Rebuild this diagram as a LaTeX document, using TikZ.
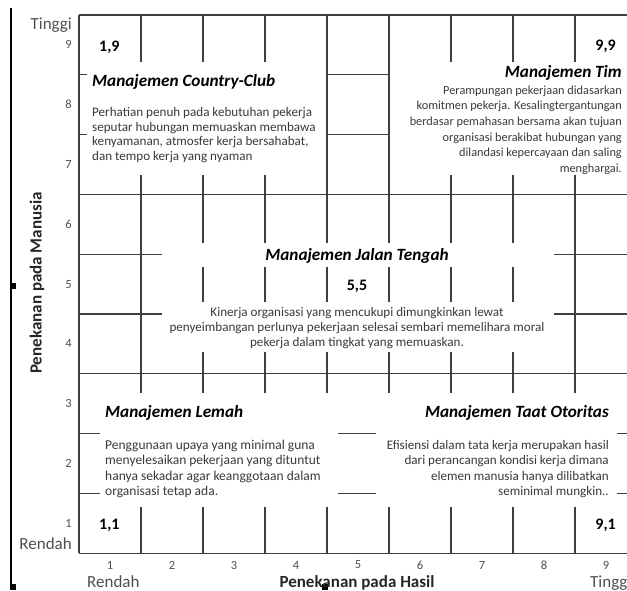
\documentclass[tikz,border=0pt]{standalone}
\usepackage{fontspec}
\setmainfont{Carlito}[Numbers=Lining]
\definecolor{gridc}{HTML}{404040}
\definecolor{txtc}{HTML}{3A3A3A}
\definecolor{axc}{HTML}{505050}
\begin{document}
\begin{tikzpicture}[x=1pt,y=-1pt,
  gridline/.style={draw=gridc, line width=1.1pt},
  whitebox/.style={fill=white, draw=none},
  ttl/.style={font=\fontsize{17.2}{19}\selectfont\bfseries\itshape, inner sep=0},
  body/.style={text=txtc, inner sep=0},
  coordlbl/.style={font=\fontsize{16}{18}\selectfont\bfseries, inner sep=0},
  axnum/.style={font=\fontsize{12.5}{14}\selectfont, text=axc, inner sep=0},
  axlbl/.style={font=\fontsize{17}{19}\selectfont, text=axc, inner sep=0},
  axttl/.style={font=\fontsize{17}{19}\selectfont\bfseries, text=black!85, inner sep=0},
  blk/.style={fill=black, draw=none}]
\path[use as bounding box, fill=white] (0,0) rectangle (627,590);
% grid
\foreach \i in {0,...,9} \draw[gridline] ({79+62*\i},15) -- ({79+62*\i},553.2);
\foreach \j in {0,...,9} \draw[gridline] (79,{15+59.8*\j}) -- (640,{15+59.8*\j});
% white text areas
\fill[whitebox] (87,62) rectangle (326,175);
\fill[whitebox] (390,62) rectangle (640,175);
\fill[whitebox] (162,243) rectangle (554,267);
\fill[whitebox] (162,302) rectangle (554,352);
\fill[whitebox] (100,393) rectangle (338,507);
\fill[whitebox] (376,393) rectangle (617,507);
% left axis line and markers
\coordinate (axtop) at (11,8);
\coordinate (axbot) at (11,590);
\draw[line width=1.2pt] (axtop) -- (axbot);
\fill[blk] (10,283) rectangle (16,289);
\fill[blk] (10,584) rectangle (16,590);
\fill[blk] (322,584) rectangle (328,590);
% quadrant texts
\node[coordlbl, anchor=base west] (c19) at (99,51) {1,9};
\node[coordlbl, anchor=base east] (c99) at (616,50.5) {9,9};
\node[coordlbl, anchor=base west] (c11) at (99,529.5) {1,1};
\node[coordlbl, anchor=base east] (c91) at (616,529.5) {9,1};
\node[coordlbl, anchor=base] (c55) at (357,290) {5,5};
\node[ttl, anchor=base west] (tcc) at (92,86) {Manajemen Country-Club};
\node[body, font=\fontsize{13.1}{14.4}\selectfont, anchor=west, align=left] (bcc) at (92,135) {Perhatian penuh pada kebutuhan pekerja\\seputar hubungan memuaskan membawa\\kenyamanan, atmosfer kerja bersahabat,\\dan tempo kerja yang nyaman};
\node[ttl, anchor=base east] (ttim) at (622,77) {Manajemen Tim};
\node[body, font=\fontsize{12.3}{15.6}\selectfont, anchor=east, align=right] (btim) at (622,130) {Perampungan pekerjaan didasarkan\\komitmen pekerja. Kesalingtergantungan\\berdasar pemahasan bersama akan tujuan\\organisasi berakibat hubungan yang\\dilandasi kepercayaan dan saling\\menghargai.};
\node[ttl, anchor=base] (tjt) at (357,260) {Manajemen Jalan Tengah};
\node[body, font=\fontsize{13.1}{15.4}\selectfont, align=center] (bjt) at (357,328) {Kinerja organisasi yang mencukupi dimungkinkan lewat\\penyeimbangan perlunya pekerjaan selesai sembari memelihara moral\\pekerja dalam tingkat yang memuaskan.};
\node[ttl, anchor=base west] (tlm) at (105,417) {Manajemen Lemah};
\node[body, font=\fontsize{13.5}{15.3}\selectfont, anchor=west, align=left] (blm) at (105,469) {Penggunaan upaya yang minimal guna\\menyelesaikan pekerjaan yang dituntut\\hanya sekadar agar keanggotaan dalam\\organisasi tetap ada.};
\node[ttl, anchor=base east] (tto) at (609,417) {Manajemen Taat Otoritas};
\node[body, font=\fontsize{13.1}{15.3}\selectfont, anchor=east, align=right] (bto) at (609,469) {Efisiensi dalam tata kerja merupakan hasil\\dari perancangan kondisi kerja dimana\\elemen manusia hanya dilibatkan\\seminimal mungkin..};
% axes labels
\foreach \n in {1,...,9} {
  \node[axnum, anchor=east] (ly\n) at (72,{553.2-59.8*(\n-0.5)}) {\n};
  \node[axnum] (lx\n) at ({79+62*(\n-0.5)},565) {\n};
}
\node[axlbl, anchor=base east] (ltop) at (72,29) {Tinggi};
\node[axlbl, anchor=base east] (lbot) at (72,549) {Rendah};
\node[axlbl, anchor=base west] (xlow) at (87,587) {Rendah};
\node[axlbl, anchor=base west] (xhigh) at (590,587) {Tinggi};
\node[axttl, anchor=base] (xttl) at (357,587) {Penekanan pada Hasil};
\node[axttl, rotate=90] (yttl) at (37,283) {Penekanan pada Manusia};
\end{tikzpicture}
\end{document}
